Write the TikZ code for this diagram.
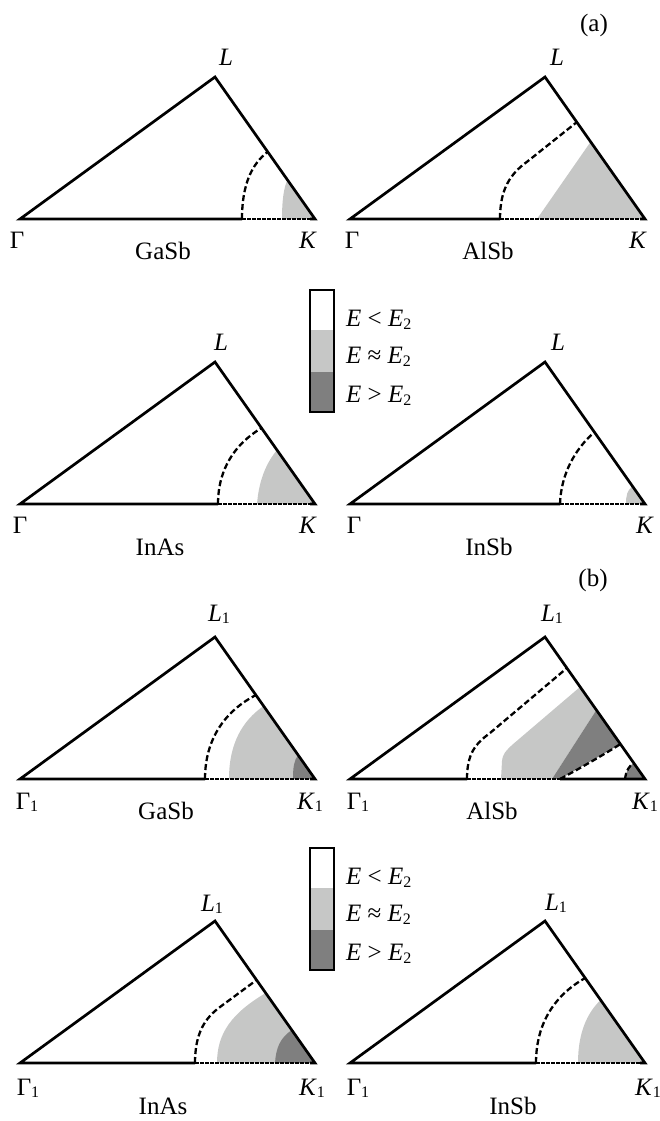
\documentclass[tikz,border=0pt]{standalone}
\usepackage{fontspec}
\setmainfont{Liberation Serif}
\definecolor{lg}{HTML}{C6C7C6}
\definecolor{dg}{HTML}{7F7F7F}
\newcommand{\sone}{\raisebox{-2pt}{\fontsize{16}{16}\selectfont 1}}
\newcommand{\stwo}{\raisebox{-3pt}{\fontsize{16}{16}\selectfont 2}}
\tikzset{
  edge/.style={line width=2.7pt, line join=miter},
  dsh/.style={line width=2.3pt, dash pattern=on 6pt off 3pt},
  basedsh/.style={line width=2pt, dash pattern=on 3.5pt off 1.5pt},
  lbl/.style={inner sep=0pt, anchor=base, font=\fontsize{25}{25}\selectfont},
  leg/.style={inner sep=0pt, anchor=base west, font=\fontsize{25}{25}\selectfont},
  legbox/.style={line width=2.2pt},
}
\begin{document}
\begin{tikzpicture}[x=1pt,y=-1pt]
\useasboundingbox (0,0) rectangle (660,1121);

% ---------- (a) GaSb ----------
\begin{scope}[shift={(20,219)}, yscale=-1]
  \coordinate (gA) at (0,0); \coordinate (lA) at (195,142); \coordinate (kA) at (295,0);
  \coordinate (fA) at (222,0); \coordinate (eA) at (290,0);
  \fill[lg] (262,0) .. controls (262,20) and (264,32) .. (267.5,39) -- (kA) -- cycle;
  \draw[dsh] (fA) .. controls (222,35) and (232,55) .. (247.5,67);
  \draw[basedsh] (fA) -- (eA);
  \draw[edge] (fA) -- (gA) -- (lA) -- (kA) -- (eA);
\end{scope}

% ---------- (a) AlSb ----------
\begin{scope}[shift={(350,219)}, yscale=-1]
  \coordinate (gB) at (0,0); \coordinate (lB) at (195,142); \coordinate (kB) at (295,0);
  \coordinate (fB) at (150,0); \coordinate (eB) at (290,0);
  \fill[lg] (187,0) -- (240.5,77) -- (kB) -- cycle;
  \draw[dsh] (fB) .. controls (150,30) and (160,45) .. (178,58) -- (227,97);
  \draw[basedsh] (fB) -- (eB);
  \draw[edge] (fB) -- (gB) -- (lB) -- (kB) -- (eB);
\end{scope}

% ---------- (a) InAs ----------
\begin{scope}[shift={(20,504)}, yscale=-1]
  \coordinate (gC) at (0,0); \coordinate (lC) at (195,142); \coordinate (kC) at (295,0);
  \coordinate (fC) at (198,0); \coordinate (eC) at (290,0);
  \fill[lg] (237,0) .. controls (239,25) and (247,42) .. (257,54) -- (kC) -- cycle;
  \draw[dsh] (fC) .. controls (198,35) and (215,60) .. (241.5,76);
  \draw[basedsh] (fC) -- (eC);
  \draw[edge] (fC) -- (gC) -- (lC) -- (kC) -- (eC);
\end{scope}

% ---------- (a) InSb ----------
\begin{scope}[shift={(350,504)}, yscale=-1]
  \coordinate (gD) at (0,0); \coordinate (lD) at (195,142); \coordinate (kD) at (295,0);
  \coordinate (fD) at (210,0); \coordinate (eD) at (290,0);
  \fill[lg] (276,0) .. controls (276,8) and (277,14) .. (282.5,17.5) -- (kD) -- cycle;
  \draw[dsh] (fD) .. controls (211,30) and (225,55) .. (244.5,72);
  \draw[basedsh] (fD) -- (eD);
  \draw[edge] (fD) -- (gD) -- (lD) -- (kD) -- (eD);
\end{scope}

% ---------- (b) GaSb ----------
\begin{scope}[shift={(20,779)}, yscale=-1]
  \coordinate (gE) at (0,0); \coordinate (lE) at (195,142); \coordinate (kE) at (295,0);
  \coordinate (fE) at (185,0); \coordinate (eE) at (290,0);
  \fill[lg] (209,0) .. controls (209,35) and (222,58) .. (243.6,73) -- (kE) -- cycle;
  \fill[dg] (273,0) .. controls (273,12) and (274,18) .. (278,24) -- (kE) -- cycle;
  \draw[dsh] (fE) .. controls (185,40) and (205,68) .. (236,84);
  \draw[basedsh] (fE) -- (eE);
  \draw[edge] (fE) -- (gE) -- (lE) -- (kE) -- (eE);
\end{scope}

% ---------- (b) AlSb ----------
\begin{scope}[shift={(350,779)}, yscale=-1]
  \coordinate (gF) at (0,0); \coordinate (lF) at (195,142); \coordinate (kF) at (295,0);
  \coordinate (fF) at (117,0); \coordinate (hF) at (210,0);
  \fill[lg] (151,0) -- (152,18) .. controls (153,26) and (156,28) .. (162,34) -- (230,92)
            -- (246.4,69) -- (202,0) -- cycle;
  \fill[dg] (202,0) -- (246.4,69) -- (270.5,35) -- (hF) -- cycle;
  \fill[dg] (275,0) .. controls (276,8) and (279,13) .. (283.7,16) -- (kF) -- cycle;
  \draw[dsh] (fF) .. controls (117,25) and (125,35) .. (140,46) -- (217,111);
  \draw[dsh] (hF) .. controls (225,8) and (250,22) .. (270.5,35);
  \draw[dsh] (275,0) .. controls (276,8) and (279,13) .. (283.7,16);
  \draw[basedsh] (fF) -- (hF);
  \draw[edge] (fF) -- (gF) -- (lF) -- (kF) -- (hF);
\end{scope}

% ---------- (b) InAs ----------
\begin{scope}[shift={(20,1063)}, yscale=-1]
  \coordinate (gG) at (0,0); \coordinate (lG) at (195,142); \coordinate (kG) at (295,0);
  \coordinate (fG) at (175,0); \coordinate (eG) at (290,0);
  \fill[lg] (197,0) .. controls (197,30) and (212,50) .. (245.7,70) -- (kG) -- cycle;
  \fill[dg] (255,0) .. controls (256,15) and (260,25) .. (271.8,33) -- (kG) -- cycle;
  \draw[dsh] (fG) .. controls (175,30) and (185,45) .. (200,56) -- (236.6,83);
  \draw[basedsh] (fG) -- (eG);
  \draw[edge] (fG) -- (gG) -- (lG) -- (kG) -- (eG);
\end{scope}

% ---------- (b) InSb ----------
\begin{scope}[shift={(350,1063)}, yscale=-1]
  \coordinate (gH) at (0,0); \coordinate (lH) at (195,142); \coordinate (kH) at (295,0);
  \coordinate (fH) at (186,0); \coordinate (eH) at (290,0);
  \fill[lg] (228,0) .. controls (228,30) and (237,50) .. (250.6,63) -- (kH) -- cycle;
  \draw[dsh] (fH) .. controls (186,40) and (205,68) .. (235.2,85);
  \draw[basedsh] (fH) -- (eH);
  \draw[edge] (fH) -- (gH) -- (lH) -- (kH) -- (eH);
\end{scope}

% ---------- legends ----------
\fill[white] (310,290) rectangle (334,330);
\fill[lg] (310,330) rectangle (334,372);
\fill[dg] (310,372) rectangle (334,412);
\draw[legbox] (310,290) rectangle (334,412);
\node[leg] (la1) at (346,326) {\textit{E} < \textit{E}\stwo};
\node[leg] (la2) at (346,363) {\textit{E} ≈ \textit{E}\stwo};
\node[leg] (la3) at (346,402) {\textit{E} > \textit{E}\stwo};

\fill[white] (310,848) rectangle (334,888);
\fill[lg] (310,888) rectangle (334,930);
\fill[dg] (310,930) rectangle (334,970);
\draw[legbox] (310,848) rectangle (334,970);
\node[leg] (lb1) at (346,884) {\textit{E} < \textit{E}\stwo};
\node[leg] (lb2) at (346,921) {\textit{E} ≈ \textit{E}\stwo};
\node[leg] (lb3) at (346,960) {\textit{E} > \textit{E}\stwo};

% ---------- labels ----------
\node[inner sep=0pt, font=\fontsize{25}{25}\selectfont] (pa) at (594,25) {(a)};
\node[inner sep=0pt, font=\fontsize{25}{25}\selectfont] (pb) at (593,580) {(b)};

\node[lbl] (tLA) at (226,66) {\textit{L}};
\node[lbl] (tLB) at (557,66) {\textit{L}};
\node[lbl] (tGA) at (17,248) {Γ};
\node[lbl] (tGB) at (352,248) {Γ};
\node[lbl] (tKA) at (308,248) {\textit{K}};
\node[lbl] (tKB) at (638,248) {\textit{K}};
\node[lbl] (mA) at (163,259) {GaSb};
\node[lbl] (mB) at (488,259) {AlSb};

\node[lbl] (tLC) at (221,350) {\textit{L}};
\node[lbl] (tLD) at (558,350) {\textit{L}};
\node[lbl] (tGC) at (20,533) {Γ};
\node[lbl] (tGD) at (354,533) {Γ};
\node[lbl] (tKC) at (308,533) {\textit{K}};
\node[lbl] (tKD) at (645,533) {\textit{K}};
\node[lbl] (mC) at (160,555) {InAs};
\node[lbl] (mD) at (489,555) {InSb};

\node[lbl] (tLE) at (219,621) {\textit{L}\sone};
\node[lbl] (tLF) at (552,621) {\textit{L}\sone};
\node[lbl] (tGE) at (27,809) {Γ\sone};
\node[lbl] (tGF) at (358,809) {Γ\sone};
\node[lbl] (tKE) at (310,809) {\textit{K}\sone};
\node[lbl] (tKF) at (645,809) {\textit{K}\sone};
\node[lbl] (mE) at (166,819) {GaSb};
\node[lbl] (mF) at (492,819) {AlSb};

\node[lbl] (tLG) at (212,911) {\textit{L}\sone};
\node[lbl] (tLH) at (556,910) {\textit{L}\sone};
\node[lbl] (tGG) at (28,1095) {Γ\sone};
\node[lbl] (tGH) at (358,1095) {Γ\sone};
\node[lbl] (tKG) at (312,1095) {\textit{K}\sone};
\node[lbl] (tKH) at (648,1095) {\textit{K}\sone};
\node[lbl] (mG) at (163,1114) {InAs};
\node[lbl] (mH) at (513,1114) {InSb};
\end{tikzpicture}
\end{document}
